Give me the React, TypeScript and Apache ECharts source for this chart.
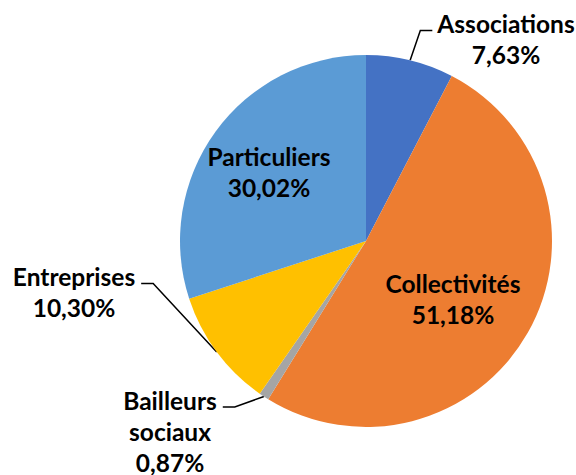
import React, { useEffect, useRef } from "react";
import * as echarts from "echarts";

const categories = ["Associations", "Collectivités", "Bailleurs sociaux", "Entreprises", "Particuliers"];
const shares = [7.63, 51.18, 0.87, 10.3, 30.02];
const colors = ["#4472C4", "#ED7D31", "#A5A5A5", "#FFC000", "#5B9BD5"];
const insideLabels = ["Collectivités", "Particuliers"];

const LINE_H = 31;
const labelCentres: Record<string, [number, number]> = {
  Associations: [506, 39],
  "Collectivités": [453, 299],
  "Bailleurs sociaux": [170, 431],
  Entreprises: [74, 292],
  Particuliers: [269, 172],
};

const fmt = (v: number) => v.toFixed(2).replace(".", ",") + "%";

export default function App() {
  const ref = useRef<HTMLDivElement>(null);
  useEffect(() => {
    document.body.style.margin = "0";
    if (!ref.current) return;
    const chart = echarts.init(ref.current, undefined, { renderer: "svg" });
    const data = categories.map((name, i) => {
      const inside = insideLabels.includes(name);
      return {
        name,
        value: shares[i],
        itemStyle: { color: colors[i] },
        label: { position: inside ? "inside" : "outside" },
        labelLine: { show: !inside },
      };
    });
    chart.setOption({
      animation: false,
      backgroundColor: "#ffffff",
      series: [
        {
          type: "pie",
          center: [366, 241],
          radius: 186,
          startAngle: 90,
          clockwise: true,
          avoidLabelOverlap: false,
          data,
          label: {
            show: true,
            formatter: (p: any) => `${String(p.name).replace(" ", "\n")}\n${fmt(p.value)}`,
            fontFamily: "Lato",
            fontWeight: "bold",
            fontSize: 24.5,
            lineHeight: LINE_H,
            color: "#000000",
            align: "center",
          },
          labelLine: {
            show: true,
            lineStyle: { color: "#000000", width: 1.5 },
          },
          emphasis: { disabled: true },
          labelLayout: (params: any) => {
            const name = categories[params.dataIndex];
            const [cx, cy] = labelCentres[name];
            const w = params.labelRect.width;
            const h = params.labelRect.height;
            const res: any = { x: cx, y: cy, align: "center", verticalAlign: "middle" };
            const pts = params.labelLinePoints;
            if (pts && !insideLabels.includes(name)) {
              const start = pts[0];
              const right = cx > start[0];
              const lineY = cy - h / 2 + LINE_H / 2 + 7;
              const endX = right ? cx - w / 2 - 5 : cx + w / 2 + 6;
              const turnX = right ? endX - 12 : endX + 12;
              res.labelLinePoints = [start, [turnX, lineY], [endX, lineY]];
            }
            return res;
          },
        },
      ],
    });
    return () => chart.dispose();
  }, []);
  return <div ref={ref} style={{ width: 576, height: 475 }} />;
}
